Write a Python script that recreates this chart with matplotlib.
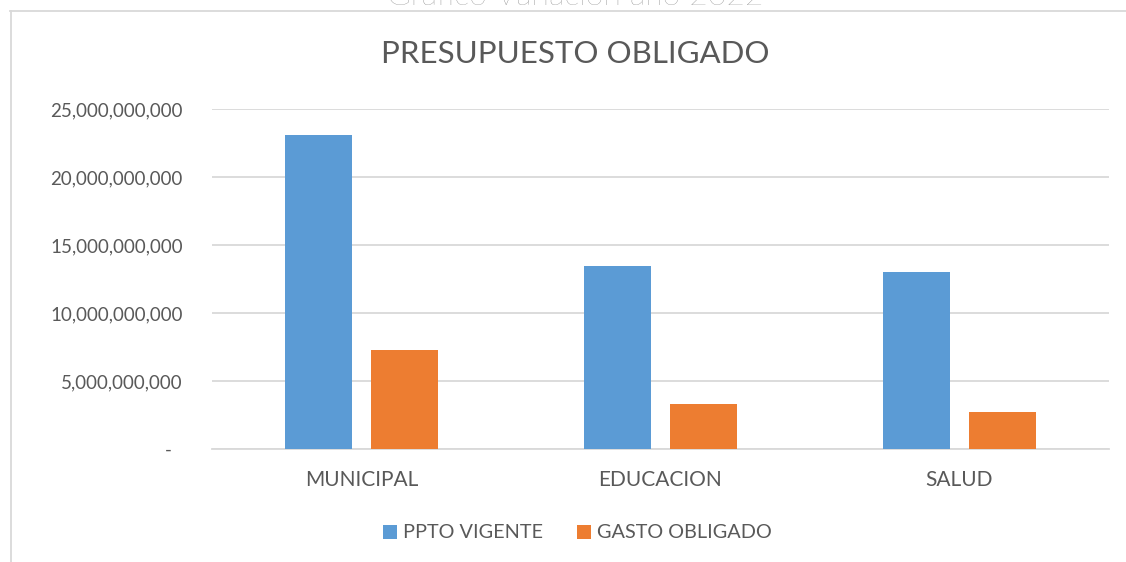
import matplotlib
matplotlib.use("Agg")
import matplotlib.pyplot as plt
import matplotlib.transforms as mtransforms
import numpy as np
from matplotlib.ticker import FuncFormatter

categories = ["MUNICIPAL", "EDUCACION", "SALUD"]
ppto_vigente = [23.07e9, 13.45e9, 12.99e9]
gasto_obligado = [7.29e9, 3.32e9, 2.70e9]
series_names = ["PPTO VIGENTE", "GASTO OBLIGADO"]
title = "PRESUPUESTO OBLIGADO"
top_text = "Gráfico Variación año 2022"

plt.rcParams['font.family'] = ['Lato', 'DejaVu Sans']
TXT = "#595959"
BLUE = "#5B9BD5"
ORANGE = "#ED7D31"
GRID = "#D9D9D9"

W, H = 1126, 562
fig = plt.figure(figsize=(W / 100, H / 100), dpi=100)

# axes placement in pixels
x0, x1 = 212, 1109
y_top, y_bot = 109, 449
ax = fig.add_axes([x0 / W, 1 - y_bot / H, (x1 - x0) / W, (y_bot - y_top) / H])

x = np.arange(len(categories))
bw = 0.224
off = 0.143
ax.bar(x - off, ppto_vigente, bw, color=BLUE, label=series_names[0], zorder=3)
ax.bar(x + off, gasto_obligado, bw, color=ORANGE, label=series_names[1], zorder=3)

ax.set_xlim(-0.5, 2.5)
ax.set_ylim(0, 25e9)
ax.set_yticks(np.arange(0, 25e9 + 1, 5e9))

def fmt(v, pos):
    if v == 0:
        return "-"
    return f"{v:,.0f}"

ax.yaxis.set_major_formatter(FuncFormatter(fmt))
ax.yaxis.grid(True, color=GRID, linewidth=1.3, zorder=0)
ax.set_axisbelow(True)
for s in ["top", "right", "left"]:
    ax.spines[s].set_visible(False)
ax.spines["bottom"].set_color(GRID)
ax.spines["bottom"].set_linewidth(1.3)
ax.tick_params(axis="both", length=0, colors=TXT)
ax.tick_params(axis="y", pad=21, labelsize=13.5)
ax.tick_params(axis="x", pad=15, labelsize=15)
ax.set_xticks(x)
ax.set_xticklabels(categories)

# accounting-style zero: the dash sits a little left of the numbers' right edge
zero_lbl = ax.yaxis.get_major_ticks()[0].label1
zero_lbl.set_transform(zero_lbl.get_transform() +
                       mtransforms.ScaledTranslation(-0.11, 0, fig.dpi_scale_trans))

fig.text(575 / W, 1 - 54 / H, title, ha="center", va="center", fontsize=22.5, color=TXT)

leg = fig.legend(loc="center", bbox_to_anchor=(577.5 / W, 1 - 533 / H), ncol=2,
                 frameon=False, fontsize=14.3, labelcolor=TXT,
                 handlelength=0.7, handleheight=0.7, handletextpad=0.3,
                 columnspacing=1.7)

# chart border (partially visible)
fig.add_artist(plt.Line2D([10 / W, 1], [1 - 10.5 / H, 1 - 10.5 / H], transform=fig.transFigure,
                          color=GRID, linewidth=1.3))
fig.add_artist(plt.Line2D([10.5 / W, 10.5 / W], [0, 1 - 10.5 / H], transform=fig.transFigure,
                          color=GRID, linewidth=1.3))

# cut-off text at very top (the reference shows it clipped by the image edge)
fig.text(575 / W, 1 - 5 / H, top_text, ha="center", va="baseline", fontsize=23,
         color="#7F7F7F", family=["Lato", "DejaVu Sans"], fontweight="light")

fig.savefig("out.png", dpi=100)
